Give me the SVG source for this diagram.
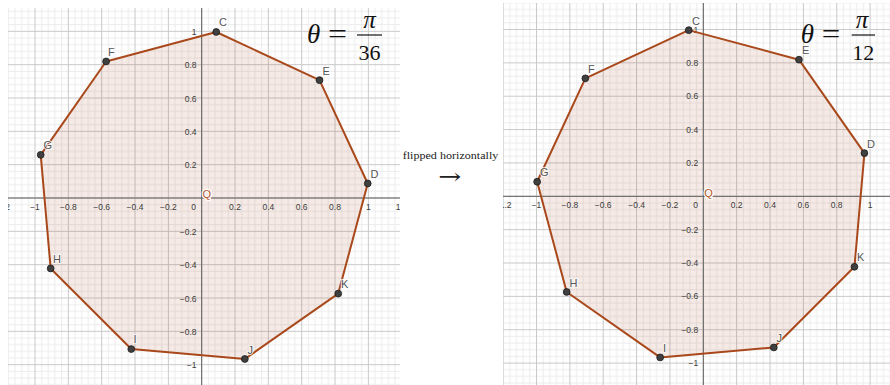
<svg xmlns="http://www.w3.org/2000/svg" width="890" height="385" viewBox="0 0 890 385">
<style>
.tk{font-family:"Liberation Sans",Arial,sans-serif;font-size:8.5px;fill:#3c3c3c}
.tx{text-anchor:middle}
.ty{text-anchor:end}
.pl{font-family:"Liberation Sans",Arial,sans-serif;font-size:11px;fill:#555;stroke:#fff;stroke-width:2;stroke-opacity:0.8;paint-order:stroke}
.q{font-family:"Liberation Sans",Arial,sans-serif;font-size:11px;fill:#b4542a;stroke:#fff;stroke-width:2.5;paint-order:stroke}
.poly{fill:#993300;fill-opacity:0.1;stroke:none}
.edge{stroke:#a9481b;stroke-width:2;fill:none;stroke-linejoin:round}
.pt{fill:#404040;stroke:#1a1a1a;stroke-width:0.8}
.ax{stroke:#5e5e5e;stroke-width:1}
.m{font-family:"Liberation Serif","Times New Roman",serif;fill:#111}
.mi{font-style:italic}
.bar{stroke:#111;stroke-width:1.2}
.cap{font-family:"Liberation Serif","Times New Roman",serif;fill:#222}
.arr{font-family:"DejaVu Serif","DejaVu Sans",serif;fill:#222}
</style>
<defs>
<pattern id="gridL" patternUnits="userSpaceOnUse" x="201.2" y="197.5" width="33.333" height="33.333">
<g fill="#ececec">
<rect x="6.667" y="0" width="1" height="33.333"/><rect x="13.333" y="0" width="1" height="33.333"/><rect x="20" y="0" width="1" height="33.333"/><rect x="26.667" y="0" width="1" height="33.333"/>
<rect y="6.667" x="0" height="1" width="33.333"/><rect y="13.333" x="0" height="1" width="33.333"/><rect y="20" x="0" height="1" width="33.333"/><rect y="26.667" x="0" height="1" width="33.333"/>
</g>
<g fill="#c9c9c9"><rect x="0" y="0" width="1" height="33.333"/><rect x="0" y="0" width="33.333" height="1"/></g>
</pattern>
<pattern id="gridR" patternUnits="userSpaceOnUse" x="702.8" y="195.8" width="33.36" height="33.36">
<g fill="#ececec">
<rect x="6.672" y="0" width="1" height="33.36"/><rect x="13.344" y="0" width="1" height="33.36"/><rect x="20.016" y="0" width="1" height="33.36"/><rect x="26.688" y="0" width="1" height="33.36"/>
<rect y="6.672" x="0" height="1" width="33.36"/><rect y="13.344" x="0" height="1" width="33.36"/><rect y="20.016" x="0" height="1" width="33.36"/><rect y="26.688" x="0" height="1" width="33.36"/>
</g>
<g fill="#c9c9c9"><rect x="0" y="0" width="1" height="33.36"/><rect x="0" y="0" width="33.36" height="1"/></g>
</pattern>
<clipPath id="clipL"><rect x="8" y="8" width="392" height="377"/></clipPath>
<clipPath id="clipR"><rect x="503" y="3" width="387" height="382"/></clipPath>
</defs>
<rect width="890" height="385" fill="#fff"/>

<!-- LEFT PLOT -->
<g id="plotL" clip-path="url(#clipL)">
<rect x="8" y="8" width="392" height="377" fill="url(#gridL)"/>
<polygon class="poly" points="367.73,183.47 319.55,80.15 216.23,31.97 106.1,61.47 40.71,154.86 50.65,268.44 131.26,349.05 244.84,358.99 338.23,293.6"/>
<line class="ax" x1="8" y1="198" x2="400" y2="198"/>
<line class="ax" x1="201.7" y1="8" x2="201.7" y2="385"/>
<g id="ticksL" class="tk">
<text class="tx" x="1.7" y="209.5">−1.2</text>
<text class="tx" x="35" y="209.5">−1</text>
<text class="tx" x="68.4" y="209.5">−0.8</text>
<text class="tx" x="101.7" y="209.5">−0.6</text>
<text class="tx" x="135" y="209.5">−0.4</text>
<text class="tx" x="168.4" y="209.5">−0.2</text>
<text class="tx" x="193.5" y="209.5">0</text>
<text class="tx" x="235" y="209.5">0.2</text>
<text class="tx" x="268.4" y="209.5">0.4</text>
<text class="tx" x="301.7" y="209.5">0.6</text>
<text class="tx" x="335" y="209.5">0.8</text>
<text class="tx" x="368.4" y="209.5">1</text>
<text class="tx" x="401.7" y="209.5">1.2</text>
<text class="ty" x="196.5" y="34.8">1</text>
<text class="ty" x="196.5" y="68.2">0.8</text>
<text class="ty" x="196.5" y="101.5">0.6</text>
<text class="ty" x="196.5" y="134.8">0.4</text>
<text class="ty" x="196.5" y="168.2">0.2</text>
<text class="ty" x="196.5" y="234.8">−0.2</text>
<text class="ty" x="196.5" y="268.2">−0.4</text>
<text class="ty" x="196.5" y="301.5">−0.6</text>
<text class="ty" x="196.5" y="334.8">−0.8</text>
<text class="ty" x="196.5" y="368.2">−1</text>
</g>
<g id="edgesL">
<polygon class="edge" points="367.73,183.47 319.55,80.15 216.23,31.97 106.1,61.47 40.71,154.86 50.65,268.44 131.26,349.05 244.84,358.99 338.23,293.6"/>
</g>
<g id="L-C"><circle class="pt" cx="216.23" cy="31.97" r="3.4"/><text class="pl" x="219" y="26">C</text></g>
<g id="L-E"><circle class="pt" cx="319.55" cy="80.15" r="3.4"/><text class="pl" x="322.5" y="75">E</text></g>
<g id="L-D"><circle class="pt" cx="367.73" cy="183.47" r="3.4"/><text class="pl" x="370.5" y="177.5">D</text></g>
<g id="L-F"><circle class="pt" cx="106.1" cy="61.47" r="3.4"/><text class="pl" x="108" y="56">F</text></g>
<g id="L-G"><circle class="pt" cx="40.71" cy="154.86" r="3.4"/><text class="pl" x="43.5" y="149">G</text></g>
<g id="L-H"><circle class="pt" cx="50.65" cy="268.44" r="3.4"/><text class="pl" x="53" y="263">H</text></g>
<g id="L-I"><circle class="pt" cx="131.26" cy="349.05" r="3.4"/><text class="pl" x="133.5" y="343">I</text></g>
<g id="L-J"><circle class="pt" cx="244.84" cy="358.99" r="3.4"/><text class="pl" x="247.5" y="353.5">J</text></g>
<g id="L-K"><circle class="pt" cx="338.23" cy="293.6" r="3.4"/><text class="pl" x="341" y="288">K</text></g>
<g id="L-Q"><text class="q" x="202.5" y="198">Q</text></g>
</g>
<g id="formulaL">
<text class="m mi" x="307" y="43" font-size="27">θ</text>
<text class="m" x="328" y="43" font-size="27" textLength="19" lengthAdjust="spacingAndGlyphs">=</text>
<line class="bar" x1="357" y1="35" x2="382" y2="35"/>
<text class="m mi" x="369.5" y="27.5" font-size="25" text-anchor="middle">π</text>
<text class="m" x="369.5" y="60" font-size="22" text-anchor="middle">36</text>
</g>

<!-- CAPTION -->
<g id="caption">
<text class="cap" x="402.7" y="159" font-size="11" textLength="95.6" lengthAdjust="spacingAndGlyphs">flipped horizontally</text>
<text class="arr" x="438.3" y="184" font-size="22" textLength="23" lengthAdjust="spacingAndGlyphs">→</text>
</g>

<!-- RIGHT PLOT -->
<g id="plotR" clip-path="url(#clipR)">
<rect x="503" y="3" width="387" height="382" fill="url(#gridR)"/>
<polygon class="poly" points="864.42,153.13 798.97,59.67 688.76,30.14 585.35,78.35 537.14,181.76 566.67,291.97 660.13,357.42 773.79,347.47 854.47,266.79"/>
<line class="ax" x1="503" y1="196.3" x2="890" y2="196.3"/>
<line class="ax" x1="703.3" y1="3" x2="703.3" y2="385"/>
<g id="ticksR" class="tk">
<text class="tx" x="503.2" y="207.8">−1.2</text>
<text class="tx" x="536.5" y="207.8">−1</text>
<text class="tx" x="569.9" y="207.8">−0.8</text>
<text class="tx" x="603.2" y="207.8">−0.6</text>
<text class="tx" x="636.6" y="207.8">−0.4</text>
<text class="tx" x="669.9" y="207.8">−0.2</text>
<text class="tx" x="695.5" y="207.8">0</text>
<text class="tx" x="736.7" y="207.8">0.2</text>
<text class="tx" x="770" y="207.8">0.4</text>
<text class="tx" x="803.4" y="207.8">0.6</text>
<text class="tx" x="836.7" y="207.8">0.8</text>
<text class="tx" x="870.1" y="207.8">1</text>
<text class="ty" x="698.2" y="32.5">1</text>
<text class="ty" x="698.2" y="65.9">0.8</text>
<text class="ty" x="698.2" y="99.2">0.6</text>
<text class="ty" x="698.2" y="132.6">0.4</text>
<text class="ty" x="698.2" y="165.9">0.2</text>
<text class="ty" x="698.2" y="232.7">−0.2</text>
<text class="ty" x="698.2" y="266">−0.4</text>
<text class="ty" x="698.2" y="299.4">−0.6</text>
<text class="ty" x="698.2" y="332.7">−0.8</text>
<text class="ty" x="698.2" y="366.1">−1</text>
</g>
<g id="edgesR">
<polygon class="edge" points="864.42,153.13 798.97,59.67 688.76,30.14 585.35,78.35 537.14,181.76 566.67,291.97 660.13,357.42 773.79,347.47 854.47,266.79"/>
</g>
<g id="R-C"><circle class="pt" cx="688.76" cy="30.14" r="3.4"/><text class="pl" x="692" y="24.5">C</text></g>
<g id="R-E"><circle class="pt" cx="798.97" cy="59.67" r="3.4"/><text class="pl" x="802" y="54">E</text></g>
<g id="R-D"><circle class="pt" cx="864.42" cy="153.13" r="3.4"/><text class="pl" x="867" y="147.5">D</text></g>
<g id="R-F"><circle class="pt" cx="585.35" cy="78.35" r="3.4"/><text class="pl" x="588" y="73">F</text></g>
<g id="R-G"><circle class="pt" cx="537.14" cy="181.76" r="3.4"/><text class="pl" x="540" y="176">G</text></g>
<g id="R-H"><circle class="pt" cx="566.67" cy="291.97" r="3.4"/><text class="pl" x="569.5" y="286.5">H</text></g>
<g id="R-I"><circle class="pt" cx="660.13" cy="357.42" r="3.4"/><text class="pl" x="663" y="352">I</text></g>
<g id="R-J"><circle class="pt" cx="773.79" cy="347.47" r="3.4"/><text class="pl" x="776.5" y="342">J</text></g>
<g id="R-K"><circle class="pt" cx="854.47" cy="266.79" r="3.4"/><text class="pl" x="857" y="261">K</text></g>
<g id="R-Q"><text class="q" x="704.3" y="196.5">Q</text></g>
</g>
<g id="formulaR">
<text class="m mi" x="800.7" y="43" font-size="27">θ</text>
<text class="m" x="821.7" y="43" font-size="27" textLength="18.5" lengthAdjust="spacingAndGlyphs">=</text>
<line class="bar" x1="851.7" y1="35" x2="875" y2="35"/>
<text class="m mi" x="862" y="27.5" font-size="25" text-anchor="middle">π</text>
<text class="m" x="863.3" y="60" font-size="22" text-anchor="middle">12</text>
</g>
</svg>
